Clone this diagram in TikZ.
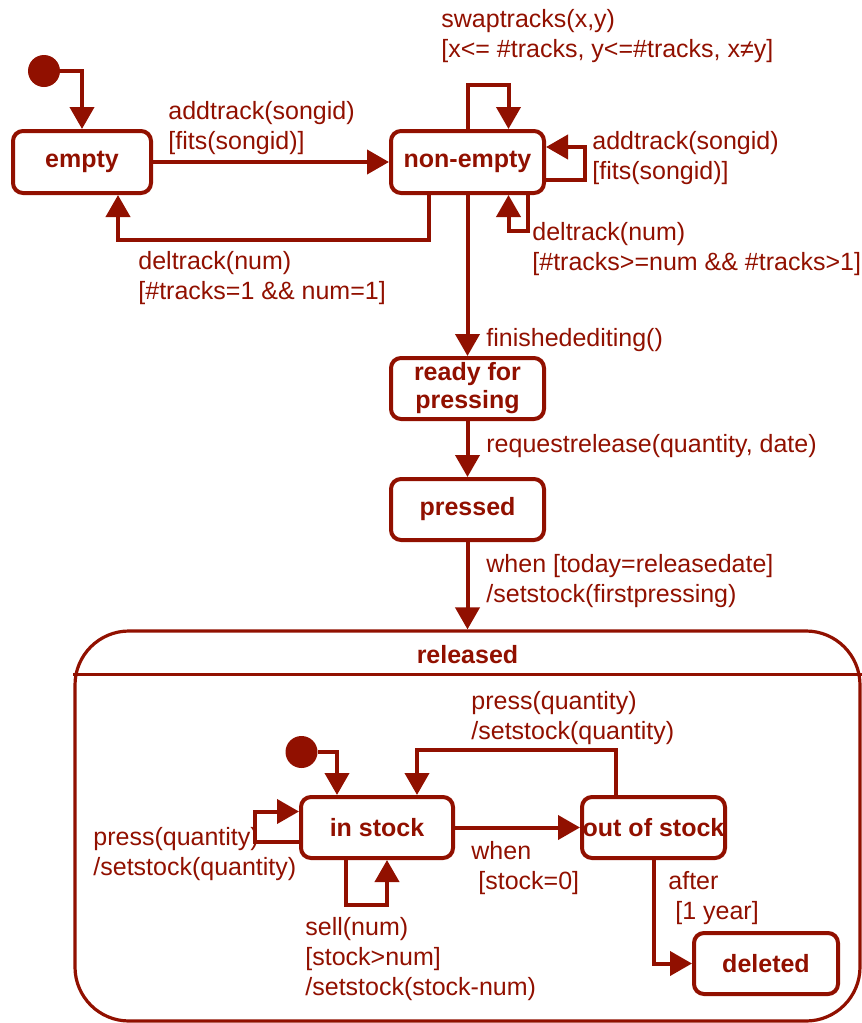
\documentclass[tikz,border=0pt]{standalone}
\usepackage{fontspec}
\setmainfont{Liberation Sans}
\usetikzlibrary{calc,arrows.meta}
\definecolor{umlred}{RGB}{145,16,0}
\tikzset{
  stbox/.style={draw=umlred, line width=2pt, rounded corners=5pt, minimum height=31pt,
    inner sep=0pt, text=umlred, align=center, font=\bfseries\fontsize{12.5}{14}\selectfont},
  compbox/.style={draw=umlred, line width=1.6pt, rounded corners=27pt, inner sep=0pt},
  ttl/.style={text=umlred, anchor=base, inner sep=0pt, font=\bfseries\fontsize{12.5}{15}\selectfont},
  lbl/.style={text=umlred, anchor=north west, inner sep=0pt, align=left,
    font=\fontsize{12.5}{15}\selectfont},
  tr/.style={draw=umlred, line width=2pt, -{Triangle[length=11pt,width=12pt]}},
  initdot/.style={circle, fill=umlred, minimum size=16pt, inner sep=0pt}
}

\begin{document}
\begin{tikzpicture}[x=0.5pt,y=-0.5pt]
    \useasboundingbox (0,0) rectangle (862,1023);
    % states of the disc
    \node[initdot] (init) at (44,71) {};
    \node[stbox, minimum width=69pt] (empty) at (82,162) {empty};
    \node[stbox, minimum width=76.5pt] (nonempty) at (467.5,162) {non-empty};
    \node[stbox, minimum width=76.5pt, minimum height=30.5pt] (ready) at (467.5,388.5) {ready for\\pressing};
    \node[stbox, minimum width=76.5pt, minimum height=30.5pt] (pressed) at (467.5,509.5) {pressed};
    \node[compbox, minimum width=392.5pt, minimum height=195pt] (released) at (467.5,826) {};
    \draw[draw=umlred, line width=1.6pt] ($(released.north west)+(0,45)$) -- ($(released.north east)+(0,45)$);
    \node[ttl] (reltitle) at (467.5,663) {released};
    % inside released
    \node[initdot] (initB) at (301.5,752) {};
    \node[stbox, minimum width=76pt, minimum height=30.5pt] (instock) at (377,827.5) {in stock};
    \node[stbox, minimum width=71.5pt, minimum height=30.5pt] (outstock) at (653.5,827.5) {out of stock};
    \node[stbox, minimum width=72pt, minimum height=30.5pt] (deleted) at (766,963.5) {deleted};

    % transitions
    \draw[tr] (init.east) -| (empty.north);
    \draw[tr] (empty.east) -- (nonempty.west);
    \draw[tr] ($(nonempty.south)+(-39,0)$) -- ++(0,45) -| ($(empty.south)+(36,0)$);
    \draw[tr] (nonempty.north) -- ++(0,-44) -| ($(nonempty.north)+(41,0)$);
    \draw[tr] ($(nonempty.east)+(0,18)$) -- ++(39,0) |- ($(nonempty.east)+(0,-15)$);
    \draw[tr] ($(nonempty.south)+(60,0)$) -- ++(0,36) -| ($(nonempty.south)+(41,0)$);
    \draw[tr] (nonempty.south) -- (ready.north);
    \draw[tr] (ready.south) -- (pressed.north);
    \draw[tr] (pressed.south) -- (released.north);
    \draw[tr] (initB.east) -| ($(instock.north)+(-40,0)$);
    \draw[tr] ($(instock.west)+(0,14)$) -- ++(-44,0) |- ($(instock.west)+(0,-16)$);
    \draw[tr] ($(instock.south)+(-31,0)$) -- ++(0,45) -| ($(instock.south)+(10,0)$);
    \draw[tr] (instock.east) -- (outstock.west);
    \draw[tr] ($(outstock.north)+(-38,0)$) -- ++(0,-45) -| ($(instock.north)+(40,0)$);
    \draw[tr] (outstock.south) |- (deleted.west);

    % labels
    \node[lbl] (lAdd) at (168,101) {addtrack(songid)\\{}[fits(songid)]};
    \node[lbl] (lDelA) at (138,251) {deltrack(num)\\{}[\#tracks=1 \&\& num=1]};
    \node[lbl] (lSwap) at (441,9) {swaptracks(x,y)\\{}[x<= \#tracks, y<=\#tracks, x≠y]};
    \node[lbl] (lAddB) at (592,131) {addtrack(songid)\\{}[fits(songid)]};
    \node[lbl] (lDelB) at (532,222) {deltrack(num)\\{}[\#tracks>=num \&\& \#tracks>1]};
    \node[lbl] (lFin) at (486,328) {finishedediting()};
    \node[lbl] (lReq) at (486,434) {requestrelease(quantity, date)};
    \node[lbl] (lWhen) at (486,554) {when [today=releasedate]\\/setstock(firstpressing)};
    \node[lbl] (lPressA) at (471,691) {press(quantity)\\/setstock(quantity)};
    \node[lbl] (lPressB) at (93,827) {press(quantity)\\/setstock(quantity)};
    \node[lbl] (lSell) at (305,917) {sell(num)\\{}[stock>num]\\/setstock(stock-num)};
    \node[lbl] (lZero) at (471,841) {when\\\ [stock=0]};
    \node[lbl] (lAfter) at (668,871) {after\\\ [1 year]};
\end{tikzpicture}
\end{document}
